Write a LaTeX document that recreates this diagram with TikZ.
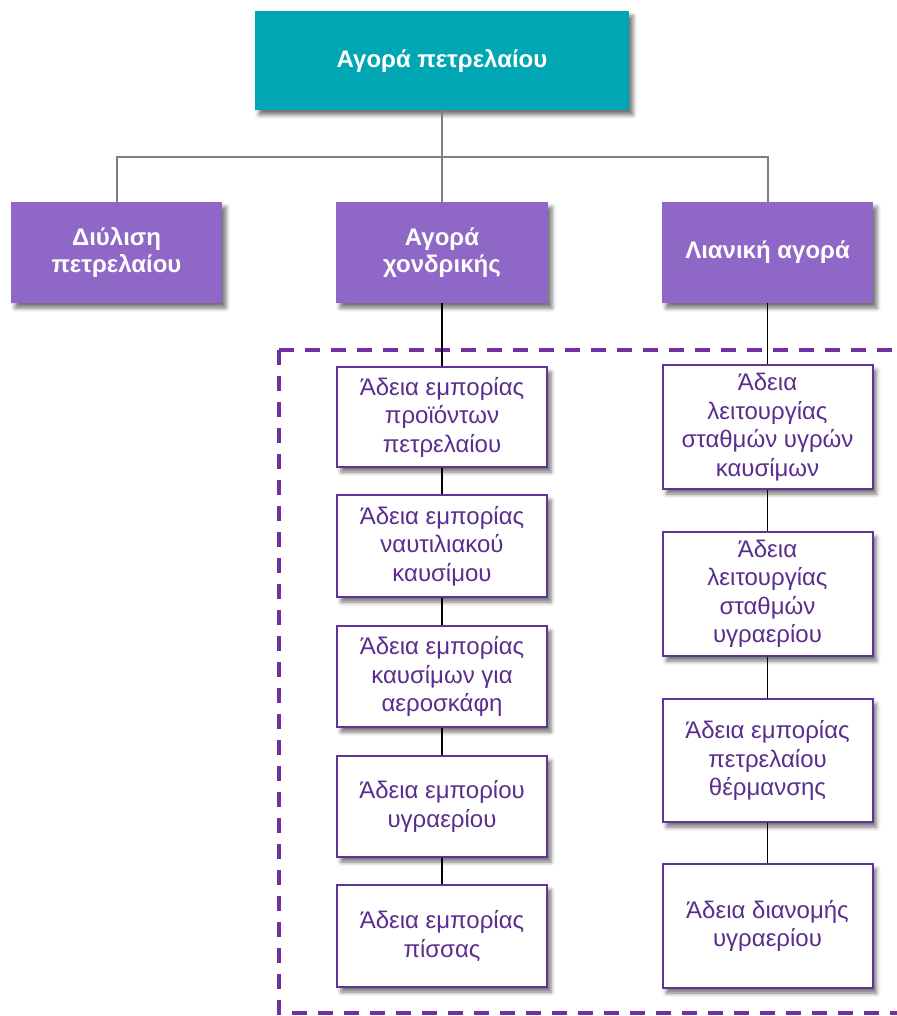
\documentclass[tikz,border=0pt]{standalone}
\usepackage{fontspec}
\setmainfont{Liberation Sans}
\usetikzlibrary{shadows.blur}
\definecolor{teal1}{HTML}{00A6B4}
\definecolor{purp1}{HTML}{8E67C7}
\definecolor{bord}{HTML}{5E3496}
\definecolor{txt}{HTML}{5A2D8E}
\definecolor{frame}{HTML}{7030A0}
\definecolor{conn}{HTML}{7F7F7F}
\tikzset{
  shad/.style={blur shadow={shadow xshift=4pt, shadow yshift=-5pt, shadow blur radius=4pt, shadow opacity=55}},
  topbox/.style={shad, fill=teal1, text=white, font=\fontsize{24}{28}\selectfont\bfseries, align=center, inner sep=0pt, minimum width=374pt, minimum height=99pt},
  midbox/.style={shad, fill=purp1, text=white, font=\fontsize{24}{27.5}\selectfont\bfseries, align=center, inner sep=0pt, minimum height=101pt},
  lic/.style={shad, fill=white, draw=bord, line width=2pt, text=txt, font=\fontsize{24}{28.5}\selectfont, align=center, inner sep=0pt, minimum width=210pt},
  upconn/.style={draw=conn, line width=2pt},
  loconn/.style={draw=black, line width=1.6pt},
  dashframe/.style={draw=frame, line width=3.5pt, dash pattern=on 15pt off 11pt}
}
\begin{document}
\begin{tikzpicture}[x=1pt,y=-1pt]
\useasboundingbox (0,0) rectangle (896,1016);
% dashed frame
\draw[dashframe] (279,350) -- (279,1013) -- (910,1013);
\draw[dashframe] (279,350) -- (910,350);
% nodes
\node[topbox] (top) at (442,60.5) {Αγορά πετρελαίου};
\node[midbox, minimum width=211pt] (dl) at (116.5,252.5) {Διύλιση\\πετρελαίου};
\node[midbox, minimum width=212pt] (xo) at (442,252.5) {Αγορά\\χονδρικής};
\node[midbox, minimum width=211pt] (li) at (767.5,252.5) {Λιανική αγορά};
\coordinate (j) at (442,157);
% left column
\node[lic, minimum height=100pt] (a1) at (442,417) {Άδεια εμπορίας\\προϊόντων\\πετρελαίου};
\node[lic, minimum height=102pt] (a2) at (442,546) {Άδεια εμπορίας\\ναυτιλιακού\\καυσίμου};
\node[lic, minimum height=101pt] (a3) at (442,676.5) {Άδεια εμπορίας\\καυσίμων για\\αεροσκάφη};
\node[lic, minimum height=101pt] (a4) at (442,806.5) {Άδεια εμπορίου\\υγραερίου};
\node[lic, minimum height=102pt] (a5) at (442,936) {Άδεια εμπορίας\\πίσσας};
% right column
\node[lic, minimum height=124pt] (b1) at (767.5,427) {Άδεια\\λειτουργίας\\σταθμών υγρών\\καυσίμων};
\node[lic, minimum height=124pt] (b2) at (767.5,594) {Άδεια\\λειτουργίας\\σταθμών\\υγραερίου};
\node[lic, minimum height=123pt] (b3) at (767.5,760.5) {Άδεια εμπορίας\\πετρελαίου\\θέρμανσης};
\node[lic, minimum height=124pt] (b4) at (767.5,926) {Άδεια διανομής\\υγραερίου};
% connectors
\draw[upconn] (top.south) -- (j);
\draw[upconn] (dl.north) |- (j) -| (li.north);
\draw[upconn] (j) -- (xo.north);
\draw[loconn] (xo.south) -- (a1.north);
\draw[loconn] (a1.south) -- (a2.north);
\draw[loconn] (a2.south) -- (a3.north);
\draw[loconn] (a3.south) -- (a4.north);
\draw[loconn] (a4.south) -- (a5.north);
\draw[loconn] (li.south) -- (b1.north);
\draw[loconn] (b1.south) -- (b2.north);
\draw[loconn] (b2.south) -- (b3.north);
\draw[loconn] (b3.south) -- (b4.north);
\end{tikzpicture}
\end{document}
